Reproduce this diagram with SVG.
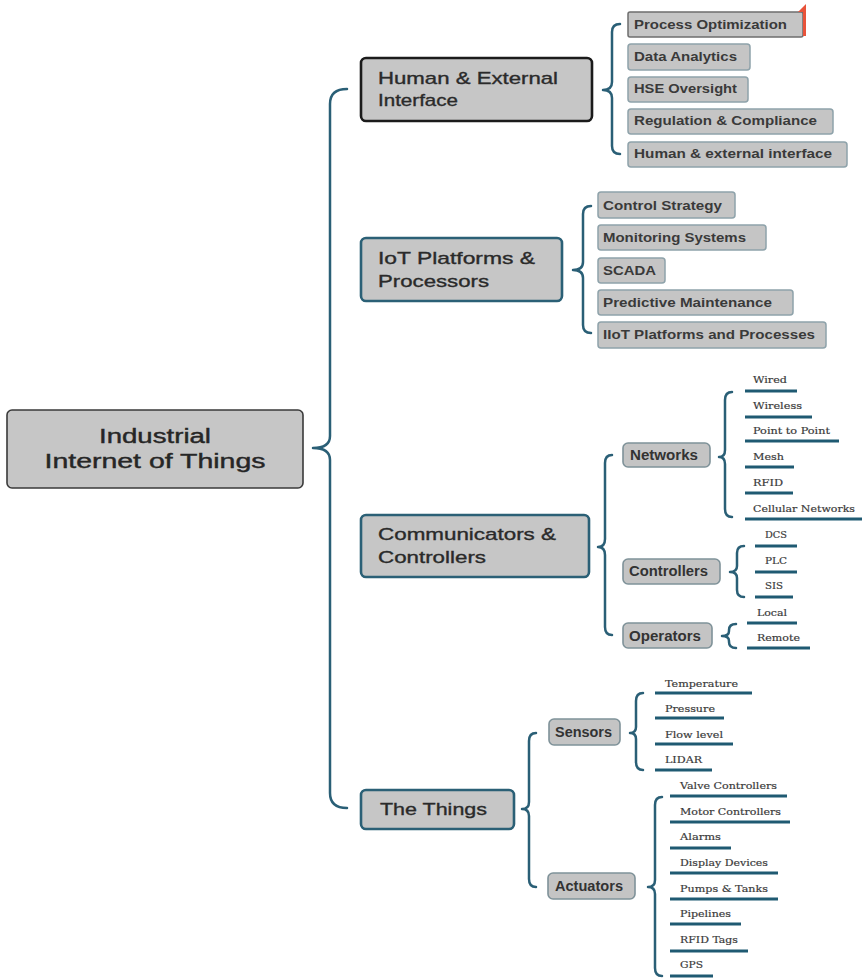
<svg xmlns="http://www.w3.org/2000/svg" width="862" height="980" viewBox="0 0 862 980">
  <style>
    .bg { fill: #ffffff; }
    .root { fill: #c6c6c6; stroke: #3a3a3a; stroke-width: 1.6; }
    .l1 { fill: #c6c6c6; stroke: #2b6076; stroke-width: 2.6; }
    .l1.dark { stroke: #1b1b1b; }
    .tag { fill: #c5c5c5; stroke: #8ea2aa; stroke-width: 1.5; }
    .tag.sel { stroke: #6e6e6e; }
    .l2 { fill: #c4c4c4; stroke: #7f9299; stroke-width: 1.6; }
    .brace { fill: none; stroke: #2a5f76; stroke-width: 2.5; stroke-linecap: round; stroke-linejoin: round; }
    .uline { stroke: #1f5a72; stroke-width: 3; }
    .t-root { font-family: "Liberation Sans", Arial, sans-serif; font-size: 20px; fill: #262626; stroke: #262626; stroke-width: 0.4; }
    .t-l1 { font-family: "Liberation Sans", Arial, sans-serif; font-size: 17px; fill: #2a2a2a; stroke: #2a2a2a; stroke-width: 0.35; }
    .t-tag { font-family: "Liberation Sans", Arial, sans-serif; font-size: 13.5px; font-weight: bold; fill: #3a3a3a; }
    .t-l2 { font-family: "Liberation Sans", Arial, sans-serif; font-size: 14px; font-weight: bold; fill: #333333; }
    .t-leaf { font-family: "DejaVu Serif", "Liberation Serif", serif; font-size: 10px; fill: #3a3a3a; stroke: #3a3a3a; stroke-width: 0.2; }
  </style>

  <rect class="bg" x="0" y="0" width="862" height="980"/>

  <!-- connectors: curly braces -->
  <g id="connectors">
    <path class="brace" d="M347,89 Q330,89 330,104 L330,436 Q330,448 313,448 Q330,448 330,460 L330,793 Q330,808 347,808"/>
    <path class="brace" d="M620,24 Q612,24 612,32 L612,82 Q612,90 603,90 Q612,90 612,98 L612,146 Q612,154 620,154"/>
    <path class="brace" d="M591,206 Q583,206 583,214 L583,262 Q583,270 573,270 Q583,270 583,278 L583,325 Q583,333 591,333"/>
    <path class="brace" d="M612,455 Q605,455 605,463 L605,539 Q605,547 598,547 Q605,547 605,555 L605,627 Q605,635 612,635"/>
    <path class="brace" d="M732,392 Q725,392 725,400 L725,450 Q725,457 719,457 Q725,457 725,464 L725,509 Q725,517 732,517"/>
    <path class="brace" d="M744,546 Q737,546 737,553 L737,566 Q737,572 730,572 Q737,572 737,578 L737,590 Q737,597 744,597"/>
    <path class="brace" d="M736,624 Q729,624 729,630 L729,631 Q729,636 722,636 Q729,636 729,641 L729,642 Q729,648 736,648"/>
    <path class="brace" d="M536,733 Q529,733 529,741 L529,802 Q529,809 522,809 Q529,809 529,816 L529,879 Q529,887 536,887"/>
    <path class="brace" d="M643,693 Q636,693 636,701 L636,727 Q636,733 630,733 Q636,733 636,739 L636,762 Q636,770 643,770"/>
    <path class="brace" d="M662,797 Q655,797 655,805 L655,880 Q655,887 648,887 Q655,887 655,894 L655,968 Q655,976 662,976"/>
  </g>

  <!-- central topic -->
  <g id="root">
    <rect class="root" x="7" y="410" width="296" height="78" rx="5"/>
    <text class="t-root" x="155" y="443" text-anchor="middle" textLength="112" lengthAdjust="spacingAndGlyphs">Industrial</text>
    <text class="t-root" x="155" y="468" text-anchor="middle" textLength="221" lengthAdjust="spacingAndGlyphs">Internet of Things</text>
  </g>

  <!-- main branches -->
  <g id="human-external">
    <rect class="l1 dark" x="361" y="58" width="231" height="63" rx="5"/>
    <text class="t-l1" x="378" y="84" textLength="180" lengthAdjust="spacingAndGlyphs">Human &amp; External</text>
    <text class="t-l1" x="378" y="106" textLength="80" lengthAdjust="spacingAndGlyphs">Interface</text>
  </g>
  <g id="iot-platforms">
    <rect class="l1" x="361" y="238" width="201" height="63" rx="5"/>
    <text class="t-l1" x="378" y="264" textLength="157" lengthAdjust="spacingAndGlyphs">IoT Platforms &amp;</text>
    <text class="t-l1" x="378" y="287" textLength="111" lengthAdjust="spacingAndGlyphs">Processors</text>
  </g>
  <g id="communicators">
    <rect class="l1" x="361" y="515" width="228" height="62" rx="5"/>
    <text class="t-l1" x="378" y="540" textLength="178" lengthAdjust="spacingAndGlyphs">Communicators &amp;</text>
    <text class="t-l1" x="378" y="563" textLength="108" lengthAdjust="spacingAndGlyphs">Controllers</text>
  </g>
  <g id="the-things">
    <rect class="l1" x="361" y="790" width="153" height="39" rx="5"/>
    <text class="t-l1" x="380" y="815" textLength="107" lengthAdjust="spacingAndGlyphs">The Things</text>
  </g>

  <!-- human & external interface topics -->
  <g id="process-optimization">
    <rect class="tag sel" x="628" y="12" width="175" height="25" rx="2"/>
    <path d="M798,12 L806,4 L806,36 L803,36 L803,12 Z" fill="#e8533a"/>
    <text class="t-tag" x="634" y="29" textLength="153" lengthAdjust="spacingAndGlyphs">Process Optimization</text>
  </g>
  <g id="data-analytics">
    <rect class="tag" x="628" y="44" width="122" height="26" rx="3"/>
    <text class="t-tag" x="634" y="61" textLength="103" lengthAdjust="spacingAndGlyphs">Data Analytics</text>
  </g>
  <g id="hse-oversight">
    <rect class="tag" x="628" y="77" width="120" height="25" rx="3"/>
    <text class="t-tag" x="634" y="93" textLength="103" lengthAdjust="spacingAndGlyphs">HSE Oversight</text>
  </g>
  <g id="regulation-compliance">
    <rect class="tag" x="628" y="109" width="205" height="25" rx="3"/>
    <text class="t-tag" x="634" y="125" textLength="183" lengthAdjust="spacingAndGlyphs">Regulation &amp; Compliance</text>
  </g>
  <g id="human-external-interface">
    <rect class="tag" x="628" y="142" width="219" height="25" rx="3"/>
    <text class="t-tag" x="634" y="158" textLength="198" lengthAdjust="spacingAndGlyphs">Human &amp; external interface</text>
  </g>

  <!-- iot platform topics -->
  <g id="control-strategy">
    <rect class="tag" x="598" y="192" width="137" height="26" rx="3"/>
    <text class="t-tag" x="603" y="210" textLength="119" lengthAdjust="spacingAndGlyphs">Control Strategy</text>
  </g>
  <g id="monitoring-systems">
    <rect class="tag" x="598" y="225" width="168" height="25" rx="3"/>
    <text class="t-tag" x="603" y="242" textLength="143" lengthAdjust="spacingAndGlyphs">Monitoring Systems</text>
  </g>
  <g id="scada">
    <rect class="tag" x="598" y="258" width="67" height="25" rx="3"/>
    <text class="t-tag" x="603" y="275" textLength="53" lengthAdjust="spacingAndGlyphs">SCADA</text>
  </g>
  <g id="predictive-maintenance">
    <rect class="tag" x="598" y="290" width="195" height="25" rx="3"/>
    <text class="t-tag" x="603" y="307" textLength="169" lengthAdjust="spacingAndGlyphs">Predictive Maintenance</text>
  </g>
  <g id="iiot-platforms">
    <rect class="tag" x="598" y="322" width="228" height="26" rx="3"/>
    <text class="t-tag" x="603" y="339" textLength="212" lengthAdjust="spacingAndGlyphs">IIoT Platforms and Processes</text>
  </g>

  <!-- communicators & controllers sub-topics -->
  <g id="networks">
    <rect class="l2" x="623" y="443" width="87" height="24" rx="5"/>
    <text class="t-l2" x="630" y="460" textLength="68" lengthAdjust="spacingAndGlyphs">Networks</text>
  </g>
  <g id="controllers">
    <rect class="l2" x="623" y="559" width="97" height="25" rx="5"/>
    <text class="t-l2" x="629" y="576" textLength="79" lengthAdjust="spacingAndGlyphs">Controllers</text>
  </g>
  <g id="operators">
    <rect class="l2" x="623" y="623" width="89" height="25" rx="5"/>
    <text class="t-l2" x="629" y="641" textLength="72" lengthAdjust="spacingAndGlyphs">Operators</text>
  </g>

  <!-- network types -->
  <g id="wired"><line class="uline" x1="745" y1="391" x2="797" y2="391"/><text class="t-leaf" x="753" y="383" textLength="34" lengthAdjust="spacingAndGlyphs">Wired</text></g>
  <g id="wireless"><line class="uline" x1="745" y1="417" x2="812" y2="417"/><text class="t-leaf" x="753" y="409" textLength="49" lengthAdjust="spacingAndGlyphs">Wireless</text></g>
  <g id="point-to-point"><line class="uline" x1="745" y1="441" x2="839" y2="441"/><text class="t-leaf" x="753" y="434" textLength="77" lengthAdjust="spacingAndGlyphs">Point to Point</text></g>
  <g id="mesh"><line class="uline" x1="745" y1="467" x2="794" y2="467"/><text class="t-leaf" x="753" y="460" textLength="31" lengthAdjust="spacingAndGlyphs">Mesh</text></g>
  <g id="rfid"><line class="uline" x1="745" y1="493" x2="793" y2="493"/><text class="t-leaf" x="753" y="486" textLength="30" lengthAdjust="spacingAndGlyphs">RFID</text></g>
  <g id="cellular-networks"><line class="uline" x1="745" y1="519" x2="862" y2="519"/><text class="t-leaf" x="753" y="512" textLength="102" lengthAdjust="spacingAndGlyphs">Cellular Networks</text></g>

  <!-- controller types -->
  <g id="dcs"><line class="uline" x1="755" y1="546" x2="797" y2="546"/><text class="t-leaf" x="765" y="538" textLength="22" lengthAdjust="spacingAndGlyphs">DCS</text></g>
  <g id="plc"><line class="uline" x1="755" y1="572" x2="797" y2="572"/><text class="t-leaf" x="765" y="564" textLength="22" lengthAdjust="spacingAndGlyphs">PLC</text></g>
  <g id="sis"><line class="uline" x1="755" y1="597" x2="793" y2="597"/><text class="t-leaf" x="765" y="589" textLength="18" lengthAdjust="spacingAndGlyphs">SIS</text></g>

  <!-- operator types -->
  <g id="local"><line class="uline" x1="747" y1="623" x2="797" y2="623"/><text class="t-leaf" x="757" y="616" textLength="30" lengthAdjust="spacingAndGlyphs">Local</text></g>
  <g id="remote"><line class="uline" x1="747" y1="648" x2="810" y2="648"/><text class="t-leaf" x="757" y="641" textLength="43" lengthAdjust="spacingAndGlyphs">Remote</text></g>

  <!-- the things sub-topics -->
  <g id="sensors">
    <rect class="l2" x="549" y="719" width="71" height="26" rx="5"/>
    <text class="t-l2" x="555" y="737" textLength="57" lengthAdjust="spacingAndGlyphs">Sensors</text>
  </g>
  <g id="actuators">
    <rect class="l2" x="548" y="873" width="87" height="26" rx="5"/>
    <text class="t-l2" x="555" y="891" textLength="68" lengthAdjust="spacingAndGlyphs">Actuators</text>
  </g>

  <!-- sensor types -->
  <g id="temperature"><line class="uline" x1="655" y1="693" x2="752" y2="693"/><text class="t-leaf" x="665" y="687" textLength="73" lengthAdjust="spacingAndGlyphs">Temperature</text></g>
  <g id="pressure"><line class="uline" x1="655" y1="718" x2="724" y2="718"/><text class="t-leaf" x="665" y="712" textLength="50" lengthAdjust="spacingAndGlyphs">Pressure</text></g>
  <g id="flow-level"><line class="uline" x1="655" y1="744" x2="733" y2="744"/><text class="t-leaf" x="665" y="738" textLength="58" lengthAdjust="spacingAndGlyphs">Flow level</text></g>
  <g id="lidar"><line class="uline" x1="655" y1="770" x2="712" y2="770"/><text class="t-leaf" x="665" y="763" textLength="37" lengthAdjust="spacingAndGlyphs">LIDAR</text></g>

  <!-- actuator types -->
  <g id="valve-controllers"><line class="uline" x1="670" y1="796" x2="787" y2="796"/><text class="t-leaf" x="680" y="789" textLength="97" lengthAdjust="spacingAndGlyphs">Valve Controllers</text></g>
  <g id="motor-controllers"><line class="uline" x1="670" y1="822" x2="790" y2="822"/><text class="t-leaf" x="680" y="815" textLength="101" lengthAdjust="spacingAndGlyphs">Motor Controllers</text></g>
  <g id="alarms"><line class="uline" x1="670" y1="848" x2="731" y2="848"/><text class="t-leaf" x="680" y="840" textLength="41" lengthAdjust="spacingAndGlyphs">Alarms</text></g>
  <g id="display-devices"><line class="uline" x1="670" y1="873" x2="778" y2="873"/><text class="t-leaf" x="680" y="866" textLength="88" lengthAdjust="spacingAndGlyphs">Display Devices</text></g>
  <g id="pumps-tanks"><line class="uline" x1="670" y1="899" x2="778" y2="899"/><text class="t-leaf" x="680" y="892" textLength="88" lengthAdjust="spacingAndGlyphs">Pumps &amp; Tanks</text></g>
  <g id="pipelines"><line class="uline" x1="670" y1="924" x2="741" y2="924"/><text class="t-leaf" x="680" y="917" textLength="51" lengthAdjust="spacingAndGlyphs">Pipelines</text></g>
  <g id="rfid-tags"><line class="uline" x1="670" y1="951" x2="748" y2="951"/><text class="t-leaf" x="680" y="943" textLength="58" lengthAdjust="spacingAndGlyphs">RFID Tags</text></g>
  <g id="gps"><line class="uline" x1="670" y1="976" x2="713" y2="976"/><text class="t-leaf" x="680" y="968" textLength="23" lengthAdjust="spacingAndGlyphs">GPS</text></g>
</svg>
